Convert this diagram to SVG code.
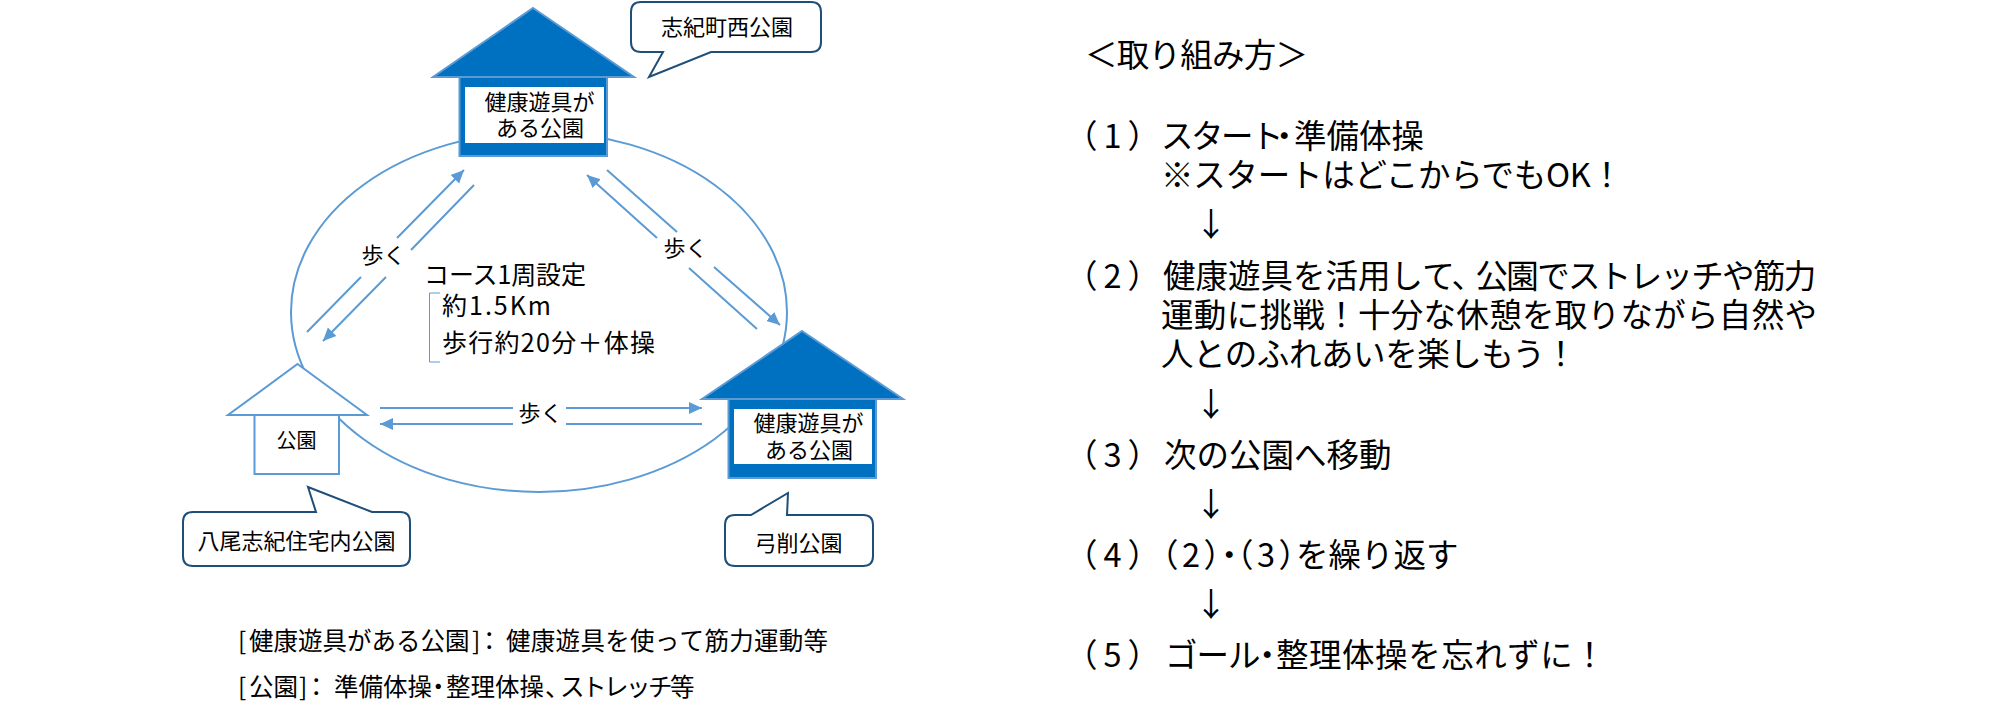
<svg xmlns="http://www.w3.org/2000/svg" width="2000" height="715" viewBox="0 0 2000 715">
<style>
text{font-family:"Noto Sans CJK JP","Noto Sans",sans-serif;fill:#000;font-weight:400;text-spacing-trim:space-all}
.s{font-size:22px;text-anchor:middle}
.m{font-size:25px}
.b{font-size:24.500px}
.l{font-size:32.500px}
.n{font-size:32.500px;letter-spacing:6px}
.c{text-anchor:middle}
.line{fill:none;stroke:#5B9BD5;stroke-width:2}
.arrow{fill:none;stroke:#5B9BD5;stroke-width:2;marker-end:url(#head)}
.roof{fill:#0070C0;stroke:#5B9BD5;stroke-width:2}
.body{fill:#0070C0;stroke:#5B9BD5;stroke-width:2}
.inner{fill:#fff}
.plain{fill:#fff;stroke:#5B9BD5;stroke-width:2}
.call{fill:#fff;stroke:#1F4E79;stroke-width:2;stroke-linejoin:miter}
</style>
<defs>
<marker id="head" markerUnits="userSpaceOnUse" markerWidth="14" markerHeight="14" viewBox="0 0 14 14" refX="13" refY="7" orient="auto"><path d="M0 1L13 7L0 13Z" fill="#5B9BD5"/></marker>
</defs>
<rect width="2000" height="715" fill="#fff"/>
<g id="connectors">
<ellipse class="line" cx="539" cy="312" rx="248" ry="180"/>
<path class="arrow" d="M307 332L361 277M397 238L464 170"/>
<path class="arrow" d="M474 185L411 250M386 277L323 341"/>
<path class="arrow" d="M607 170L677 232M714 267L780 325"/>
<path class="arrow" d="M757 329L689 268M657 238L587 175"/>
<path class="arrow" d="M380 408L513 408M566 408L702 408"/>
<path class="arrow" d="M702 424L566 424M513 424L380 424"/>
<path d="M440 293H429.500V362H440" fill="none" stroke="#5B9BD5" stroke-width="1"/>
</g>
<g id="label-walk-left"><text class="s" x="383.500" y="263">歩く</text></g>
<g id="label-walk-right"><text class="s" x="685.500" y="256">歩く</text></g>
<g id="label-walk-bottom"><text class="s" x="540.500" y="421">歩く</text></g>
<g id="node-top-house">
<path class="roof" d="M533 8L634 77H433Z"/>
<rect class="body" x="459.500" y="77" width="147.500" height="79"/>
<rect class="inner" x="465" y="87" width="139" height="56"/>
<text class="s" x="539.500" y="110">健康遊具が</text>
<text class="s" x="540" y="136">ある公園</text>
</g>
<g id="node-right-house">
<path class="roof" d="M802 331L903 399H702Z"/>
<rect class="body" x="728.500" y="399" width="147.500" height="79"/>
<rect class="inner" x="734" y="409" width="138" height="55"/>
<text class="s" x="808.500" y="431">健康遊具が</text>
<text class="s" x="809" y="458">ある公園</text>
</g>
<g id="node-park-house">
<path class="plain" d="M297.500 364L367 415H228Z"/>
<rect class="plain" x="254.500" y="415" width="84.500" height="59"/>
<text class="c" style="font-size:20px" x="296.500" y="448">公園</text>
</g>
<g id="callout-top">
<path class="call" d="M641 2H811Q821 2 821 12V42Q821 52 811 52H711L649 77L663 52H641Q631 52 631 42V12Q631 2 641 2Z"/>
<text class="s" x="727" y="35">志紀町西公園</text>
</g>
<g id="callout-left">
<path class="call" d="M193 512H316L308 487L372 512H400Q410 512 410 522V556Q410 566 400 566H193Q183 566 183 556V522Q183 512 193 512Z"/>
<text class="s" x="296.500" y="549">八尾志紀住宅内公園</text>
</g>
<g id="callout-right">
<path class="call" d="M735 515H751L788 493L787 515H863Q873 515 873 525V556Q873 566 863 566H735Q725 566 725 556V525Q725 515 735 515Z"/>
<text class="s" x="798.500" y="551">弓削公園</text>
</g>
<g id="course-note">
<text class="m" x="424" y="284" textLength="162">コース1周設定</text>
<text class="m" x="442" y="315" textLength="109">約1.5Km</text>
<text class="m" x="442" y="352" textLength="213">歩行約20分＋体操</text>
</g>
<g id="legend">
<text class="b" y="650" x="238 249 273.500 298 322.500 347 371.500 396 420.500 445 472 477 506 530.800 555.600 580.400 605.200 630 654.800 679.600 704.400 729.200 754 778.800 803.600">[健康遊具がある公園]：健康遊具を使って筋力運動等</text>
<text class="b" y="696" x="238 249 273.500 299 304 334 358.500 383 407.500 426 446 470.500 495 519.500 545 560 582 604 626 648 670">[公園]：準備体操・整理体操、ストレッチ等</text>
</g>
<g id="steps">
<text class="l" x="1085" y="67" textLength="223">＜取り組み方＞</text>
<text class="n" x="1065" y="148">（1）</text>
<text class="l" x="1161" y="148" dx="0 -2.500 -2.500 -2.500 -15.500 -6.500">スタート・準備体操</text>
<text class="l" x="1161" y="187" textLength="462">※スタートはどこからでもOK！</text>
<text class="l c" x="1211" y="236">↓</text>
<text class="n" x="1065" y="288">（2）</text>
<text class="l" x="1163" y="288" dx="0 0 0 0 0 0 0 0 0 -1.500 -8.500 -1.700 -1.700 -1.700 -1.700 -1.700 -1.700 -1.700 -1.700 -1.700 -1.700">健康遊具を活用して、公園でストレッチや筋力</text>
<text class="l" x="1161" y="327" textLength="656">運動に挑戦！十分な休憩を取りながら自然や</text>
<text class="l" x="1161" y="366" textLength="416">人とのふれあいを楽しもう！</text>
<text class="l c" x="1211" y="416">↓</text>
<text class="n" x="1065" y="467">（3）</text>
<text class="l" x="1164" y="467">次の公園へ移動</text>
<text class="l c" x="1211" y="516">↓</text>
<text class="n" x="1065" y="567">（4）</text>
<text class="l" x="1146 1182 1203.500 1213 1221 1257 1278.500 1296" y="567">（2）・（3）を繰り返す</text>
<text class="l c" x="1211" y="616">↓</text>
<text class="n" x="1065" y="667">（5）</text>
<text class="l" x="1165" y="667" dx="0 -1 -1 -9.500 -7.500 0.500 0.500 0.500 0.500 0.500 0.500 0.500 0.500 0.500">ゴール・整理体操を忘れずに！</text>
</g>
</svg>
